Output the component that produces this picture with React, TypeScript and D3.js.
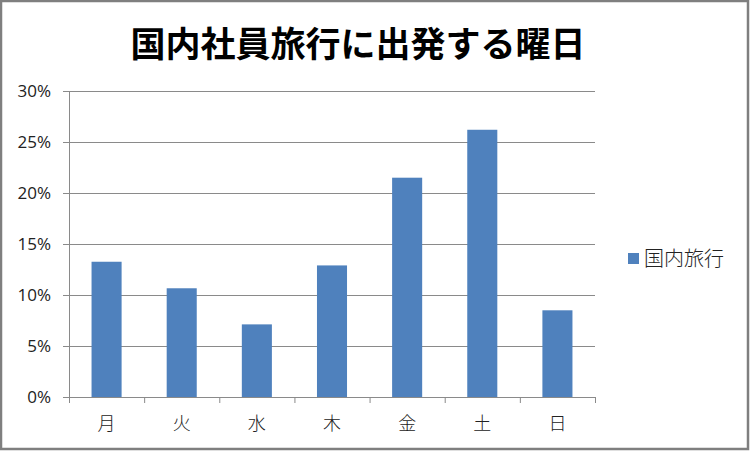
import React, { useEffect, useRef } from 'react';
import * as d3 from 'd3';

// 曜日と割合
const days = ['月', '火', '水', '木', '金', '土', '日'];
const shares = [0.1326, 0.1066, 0.0712, 0.129, 0.215, 0.262, 0.085];
const yTicks = [0, 0.05, 0.1, 0.15, 0.2, 0.25, 0.3];
const seriesName = '国内旅行';
const title = '国内社員旅行に出発する曜日';

const W = 750;
const H = 451;
const FONT = '"Noto Sans CJK JP", "Noto Sans", sans-serif';
const LATIN = '"Open Sans", "Noto Sans", sans-serif';

const App: React.FC = () => {
  const ref = useRef<SVGSVGElement>(null);

  useEffect(() => {
    const svg = d3.select(ref.current!);
    svg.selectAll('*').remove();

    const left = 69;
    const right = 595;
    const top = 91;
    const bottom = 397;

    // 背景と外枠
    svg.append('rect').attr('width', W).attr('height', H).attr('fill', '#fff');
    svg
      .append('rect')
      .attr('x', 1)
      .attr('y', 1)
      .attr('width', W - 3)
      .attr('height', H - 3)
      .attr('fill', 'none')
      .attr('stroke', '#7f7f7f')
      .attr('stroke-width', 2.5);

    svg
      .append('text')
      .attr('x', 358)
      .attr('y', 57)
      .attr('text-anchor', 'middle')
      .attr('font-family', FONT)
      .attr('font-weight', 'bold')
      .attr('font-size', 35)
      .attr('fill', '#000')
      .text(title);

    const x = d3.scaleBand<string>().domain(days).range([left, right]).paddingInner(0.6).paddingOuter(0.3);
    const y = d3.scaleLinear().domain([0, 0.3]).range([bottom, top]);

    // グリッド線
    svg
      .append('g')
      .selectAll('line')
      .data(yTicks)
      .join('line')
      .attr('x1', left - 6)
      .attr('x2', right)
      .attr('y1', (d) => y(d) + 0.5)
      .attr('y2', (d) => y(d) + 0.5)
      .attr('stroke', '#8a8a8a')
      .attr('stroke-width', 1);

    svg
      .append('g')
      .selectAll('text')
      .data(yTicks)
      .join('text')
      .attr('x', 51)
      .attr('y', (d) => y(d))
      .attr('dy', '0.35em')
      .attr('text-anchor', 'end')
      .attr('font-family', LATIN)
      .attr('font-size', 17)
      .attr('fill', '#222')
      .text((d) => d3.format('.0%')(d));

    // 棒
    svg
      .append('g')
      .selectAll('rect')
      .data(days)
      .join('rect')
      .attr('x', (d) => x(d)!)
      .attr('width', x.bandwidth())
      .attr('y', (_, i) => y(shares[i]))
      .attr('height', (_, i) => bottom - y(shares[i]))
      .attr('fill', '#4f81bd');

    // 軸
    svg
      .append('line')
      .attr('x1', left + 0.5)
      .attr('x2', left + 0.5)
      .attr('y1', top)
      .attr('y2', bottom + 6)
      .attr('stroke', '#8a8a8a');

    const step = (right - left) / days.length;
    svg
      .append('g')
      .selectAll('line')
      .data(d3.range(1, days.length + 1))
      .join('line')
      .attr('x1', (i) => left + step * i + 0.5)
      .attr('x2', (i) => left + step * i + 0.5)
      .attr('y1', bottom)
      .attr('y2', bottom + 6)
      .attr('stroke', '#8a8a8a');

    svg
      .append('g')
      .selectAll('text')
      .data(days)
      .join('text')
      .attr('x', (d) => x(d)! + x.bandwidth() / 2)
      .attr('y', 424)
      .attr('dy', '0.35em')
      .attr('text-anchor', 'middle')
      .attr('font-family', FONT)
      .attr('font-weight', 300)
      .attr('font-size', 18)
      .attr('fill', '#222')
      .text((d) => d);

    // 凡例
    svg.append('rect').attr('x', 628).attr('y', 253).attr('width', 11).attr('height', 11).attr('fill', '#4f81bd');
    svg
      .append('text')
      .attr('x', 644)
      .attr('y', 259)
      .attr('dy', '0.35em')
      .attr('font-family', FONT)
      .attr('font-weight', 300)
      .attr('font-size', 20)
      .attr('fill', '#222')
      .text(seriesName);
  }, []);

  return (
    <svg
      ref={ref}
      width={W}
      height={H}
      style={{ display: 'block', position: 'absolute', left: 0, top: 0 }}
    />
  );
};

export default App;
